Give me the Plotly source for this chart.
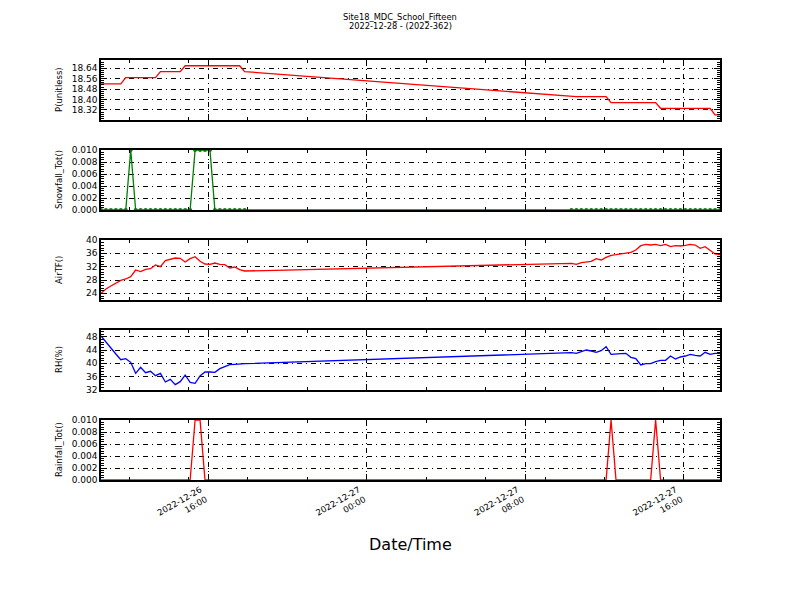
import pandas as pd
import plotly.graph_objects as go

TITLE_LINES = ["Site18_MDC_School_Fifteen", "2022-12-28 - (2022-362)"]
X_LABEL = "Date/Time"

# sampling times (15-minute records, two segments with a data gap between)
SEG1_TIMES = pd.date_range("2022-12-26 10:35", "2022-12-26 17:50", freq="15min")
SEG2_TIMES = pd.date_range("2022-12-27 10:20", "2022-12-27 17:50", freq="15min")

PRESSURE_1 = [18.52, 18.52, 18.52, 18.52, 18.52,
              18.568, 18.568, 18.568, 18.568, 18.568, 18.568, 18.568,
              18.614, 18.614, 18.614, 18.614, 18.614,
              18.66, 18.66, 18.66, 18.66, 18.66, 18.66, 18.66, 18.66, 18.66, 18.66, 18.66, 18.66,
              18.615]
PRESSURE_2 = [18.422, 18.422, 18.422, 18.422, 18.422, 18.422, 18.422, 18.422,
              18.376, 18.376, 18.376, 18.376, 18.376, 18.376, 18.376, 18.376, 18.376, 18.376,
              18.333, 18.333, 18.333, 18.333, 18.333, 18.333, 18.333, 18.333, 18.333, 18.333, 18.333,
              18.282, 18.282]

SNOW_1 = [0, 0, 0, 0, 0, 0, 0.01, 0, 0, 0, 0, 0, 0, 0, 0, 0, 0, 0, 0,
          0.01, 0.01, 0.01, 0.01, 0, 0, 0, 0, 0, 0, 0]
SNOW_2 = [0, 0, 0, 0, 0, 0, 0, 0, 0, 0, 0, 0, 0, 0, 0, 0, 0, 0, 0, 0,
          0, 0, 0, 0, 0, 0, 0, 0, 0, 0, 0]

AIRT_1 = [24.0, 25.3, 26.2, 27.0, 27.9, 28.3, 29.0, 31.0, 30.5, 31.2, 31.4, 32.5, 32.0, 33.8, 34.2,
          34.6, 34.5, 33.4, 34.4, 35.0, 33.6, 32.8, 32.7, 33.1, 32.7, 32.6, 31.6, 31.9, 31.1, 30.7]
AIRT_2 = [33.0, 32.7, 33.2, 33.3, 33.6, 34.4, 34.0, 34.8, 35.4, 35.6, 35.9, 36.2, 36.3, 37.0, 38.3,
          38.7, 38.5, 38.7, 38.3, 38.7, 38.0, 38.3, 38.2, 38.4, 38.7, 38.5, 37.5, 38.0, 36.8, 35.8, 35.6]

RH_1 = [48.2, 46.3, 44.5, 42.8, 41.1, 41.4, 40.3, 37.0, 38.8, 37.2, 37.6, 36.3, 37.0, 34.4, 35.2,
        33.6, 34.5, 36.5, 34.3, 34.0, 36.2, 37.4, 37.4, 37.3, 38.4, 39.0, 39.6, 39.7, 39.8, 39.9]
RH_2 = [43.2, 43.0, 43.5, 44.0, 43.7, 43.3, 43.8, 45.0, 42.7, 42.9, 42.9, 43.0, 41.8, 41.4, 39.5,
        39.9, 39.9, 40.5, 40.9, 40.9, 42.2, 41.3, 41.9, 42.2, 42.7, 42.4, 42.2, 43.3, 42.7, 43.0, 43.0]

RAIN_1 = [0, 0, 0, 0, 0, 0, 0, 0, 0, 0, 0, 0, 0, 0, 0, 0, 0, 0, 0,
          0.01, 0.01, 0, 0, 0, 0, 0, 0, 0, 0, 0]
RAIN_2 = [0, 0, 0, 0, 0, 0, 0, 0, 0.01, 0, 0, 0, 0, 0, 0, 0, 0, 0.01, 0, 0,
          0, 0, 0, 0, 0, 0, 0, 0, 0, 0, 0]

Y_TITLES = ["P(unitless)", "Snowfall_Tot()", "AirTF()", "RH(%)", "Rainfall_Tot()"]
Y_RANGES = [[18.243, 18.704], [0, 0.010], [22, 40], [32, 50], [0, 0.010]]
Y_TICKVALS = [[18.32, 18.40, 18.48, 18.56, 18.64],
              [0.000, 0.002, 0.004, 0.006, 0.008, 0.010],
              [24, 28, 32, 36, 40],
              [32, 36, 40, 44, 48],
              [0.000, 0.002, 0.004, 0.006, 0.008, 0.010]]
Y_FORMATS = [".2f", ".3f", "d", "d", ".3f"]
Y_MINOR = [0.016, 0.0004, 0.8, 0.8, 0.0004]

X_TICKVALS = ["2022-12-26 16:00", "2022-12-27 00:00", "2022-12-27 08:00", "2022-12-27 16:00"]
X_TICKTEXT = ["2022-12-26<br>16:00", "2022-12-27<br>00:00", "2022-12-27<br>08:00", "2022-12-27<br>16:00"]

times = list(SEG1_TIMES) + list(SEG2_TIMES)
series = [
    (PRESSURE_1 + PRESSURE_2, "red", False),
    (SNOW_1 + SNOW_2, "green", True),
    (AIRT_1 + AIRT_2, "red", False),
    (RH_1 + RH_2, "blue", False),
    (RAIN_1 + RAIN_2, "red", False),
]

FONT = "DejaVu Sans"
W, H = 800, 600
OFF = 8  # page body margin
PX0, PX1, PY0, PY1 = 101, 720, 60, 480  # plot area in screen pixels
L, R = PX0 - OFF, W + OFF - PX1
T, B = PY0 - OFF, H + OFF - PY1
plot_w, plot_h = PX1 - PX0, PY1 - PY0
panel_tops = [60, 150, 240, 330, 420]
panel_h = 60
GRID_DASH = "5px,4px,1px,4px"


def px(sx):
    return (sx - PX0) / plot_w


def py(sy):
    return (PY1 - sy) / plot_h


fig = go.Figure()
for k, (vals, color, markers) in enumerate(series):
    sfx = "" if k == 0 else str(k + 1)
    fig.add_trace(go.Scatter(
        x=times, y=vals, xaxis="x" + sfx, yaxis="y" + sfx,
        mode="lines+markers" if markers else "lines",
        line=dict(color=color, width=1.3),
        marker=dict(color=color, size=4) if markers else None,
        showlegend=False,
    ))
    top = panel_tops[k]
    dom = [py(top + panel_h), py(top)]
    fig.layout["xaxis" + sfx] = dict(
        domain=[0, 1], anchor="y" + sfx,
        range=[times[0], times[-1]],
        matches=None if k == 0 else "x",
        tickmode="array", tickvals=X_TICKVALS, ticktext=X_TICKTEXT,
        showticklabels=(k == 4), tickangle=-30, ticklabelshift=-8,
        tickfont=dict(family=FONT, size=8.5, color="black"),
        ticks="inside", ticklen=6, tickwidth=1, tickcolor="black",
        minor=dict(tickmode="linear", tick0="2022-12-26 00:00", dtick=3 * 3600 * 1000,
                   ticks="inside", ticklen=3, tickcolor="black", showgrid=False),
        showline=True, linecolor="black", linewidth=1.5, mirror="allticks",
        showgrid=True, gridcolor="black", gridwidth=0.7, griddash=GRID_DASH,
        zeroline=False,
    )
    fig.layout["yaxis" + sfx] = dict(
        domain=dom, anchor="x" + sfx, range=Y_RANGES[k],
        tickmode="array", tickvals=Y_TICKVALS[k], tickformat=Y_FORMATS[k],
        tickfont=dict(family=FONT, size=9, color="black"),
        ticks="inside", ticklen=6, tickwidth=1, tickcolor="black",
        minor=dict(tickmode="linear", tick0=Y_RANGES[k][0] if k in (1, 4) else Y_TICKVALS[k][0],
                   dtick=Y_MINOR[k], ticks="inside", ticklen=3, tickcolor="black", showgrid=False),
        showline=True, linecolor="black", linewidth=1.5, mirror="allticks",
        showgrid=True, gridcolor="black", gridwidth=0.7, griddash=GRID_DASH,
        zeroline=False,
    )
    fig.add_annotation(
        xref="paper", yref="paper", x=px(59), y=(dom[0] + dom[1]) / 2,
        text=Y_TITLES[k], textangle=-90, showarrow=False,
        xanchor="center", yanchor="middle",
        font=dict(family=FONT, size=8.5, color="black"),
    )

fig.add_annotation(
    xref="paper", yref="paper", x=px(410), y=py(544),
    text=X_LABEL, showarrow=False, xanchor="center", yanchor="middle",
    font=dict(family=FONT, size=16, color="black"),
)
for line, sy in zip(TITLE_LINES, [17, 26]):
    fig.add_annotation(
        xref="paper", yref="paper", x=px(400), y=py(sy),
        text=line, showarrow=False, xanchor="center", yanchor="middle",
        font=dict(family=FONT, size=8.3, color="black"),
    )

fig.update_layout(
    width=W, height=H, margin=dict(l=L, r=R, t=T, b=B, pad=0),
    paper_bgcolor="white", plot_bgcolor="white",
    font=dict(family=FONT, color="black"),
)
fig.write_html("out.html")
